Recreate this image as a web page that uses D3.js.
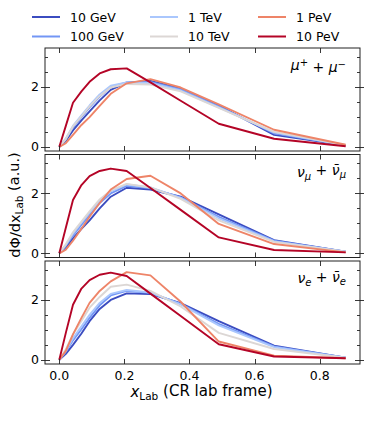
<!DOCTYPE html>
<html>
<head>
<meta charset="utf-8">
<script src="https://cdn.jsdelivr.net/npm/d3@7"></script>
<style>
  body { margin: 0; background: #fff; }
  text { font-family: "DejaVu Sans", sans-serif; fill: #000; }
</style>
</head>
<body>
<div id="chart"></div>
<script>
// x_Lab bin positions shared by every curve
var xLab = [0, 0.02, 0.042, 0.068, 0.093, 0.124, 0.158, 0.207, 0.28, 0.373, 0.49, 0.66, 0.88];

var energies = ["10 GeV", "100 GeV", "1 TeV", "10 TeV", "1 PeV", "10 PeV"];
var colors = ["#3b4cc0", "#7396f5", "#aac7fd", "#dcd7d5", "#ee8468", "#b40426"];

// mu+ + mu-
var muGeV10  = [0, 0.2, 0.55, 0.88, 1.18, 1.55, 1.9, 2.14, 2.2, 1.95, 1.38, 0.4, 0.05];
var muGeV100 = [0, 0.25, 0.65, 1.0, 1.32, 1.68, 2.0, 2.15, 2.17, 1.92, 1.35, 0.45, 0.05];
var muTeV1   = [0, 0.28, 0.7, 1.05, 1.38, 1.75, 2.04, 2.15, 2.13, 1.88, 1.32, 0.48, 0.05];
var muTeV10  = [0, 0.26, 0.68, 1.02, 1.35, 1.7, 1.98, 2.1, 2.08, 1.85, 1.3, 0.5, 0.06];
var muPeV1   = [0, 0.12, 0.4, 0.73, 0.99, 1.37, 1.77, 2.12, 2.26, 1.98, 1.42, 0.57, 0.07];
var muPeV10  = [0, 0.7, 1.47, 1.85, 2.17, 2.45, 2.59, 2.62, 2.15, 1.54, 0.77, 0.27, 0.02];

// nu_mu + nubar_mu
var numuGeV10  = [0, 0.2, 0.5, 0.82, 1.1, 1.5, 1.89, 2.19, 2.13, 1.89, 1.3, 0.44, 0.05];
var numuGeV100 = [0, 0.25, 0.6, 0.95, 1.28, 1.68, 2.0, 2.25, 2.18, 1.87, 1.22, 0.42, 0.05];
var numuTeV1   = [0, 0.28, 0.66, 1.02, 1.36, 1.75, 2.07, 2.3, 2.2, 1.85, 1.17, 0.4, 0.05];
var numuTeV10  = [0, 0.3, 0.7, 1.06, 1.4, 1.8, 2.1, 2.32, 2.2, 1.82, 1.1, 0.38, 0.05];
var numuPeV1   = [0, 0.12, 0.42, 0.82, 1.22, 1.68, 2.13, 2.48, 2.59, 2.0, 0.98, 0.31, 0.03];
var numuPeV10  = [0, 0.85, 1.78, 2.28, 2.58, 2.75, 2.83, 2.75, 2.18, 1.45, 0.53, 0.11, 0.03];

// nu_e + nubar_e
var nueGeV10  = [0, 0.2, 0.5, 0.88, 1.29, 1.7, 2.0, 2.22, 2.2, 1.89, 1.29, 0.47, 0.07];
var nueGeV100 = [0, 0.27, 0.65, 1.02, 1.4, 1.82, 2.15, 2.3, 2.24, 1.87, 1.2, 0.45, 0.07];
var nueTeV1   = [0, 0.3, 0.72, 1.12, 1.5, 1.9, 2.2, 2.33, 2.25, 1.85, 1.15, 0.42, 0.07];
var nueTeV10  = [0, 0.35, 0.85, 1.3, 1.74, 2.1, 2.44, 2.51, 2.3, 1.78, 0.9, 0.36, 0.07];
var nuePeV1   = [0, 0.3, 0.85, 1.4, 1.9, 2.3, 2.62, 2.93, 2.82, 1.94, 0.61, 0.14, 0.05];
var nuePeV10  = [0, 0.9, 1.84, 2.38, 2.66, 2.84, 2.91, 2.8, 2.21, 1.46, 0.52, 0.11, 0.05];

var xTicks = [0, 0.2, 0.4, 0.6, 0.8];
var yTicks = [0, 2];
var yMinor = [0, 0.5, 1, 1.5, 2, 2.5, 3];

var panels = [
    { label: ["μ", "+", " + ", "μ", "−"], kind: "sup", series: [muGeV10, muGeV100, muTeV1, muTeV10, muPeV1, muPeV10] },
    { label: ["ν", "μ", " + ", "ν̄", "μ"], kind: "sub", series: [numuGeV10, numuGeV100, numuTeV1, numuTeV10, numuPeV1, numuPeV10] },
    { label: ["ν", "e", " + ", "ν̄", "e"], kind: "sub", series: [nueGeV10, nueGeV100, nueTeV1, nueTeV10, nuePeV1, nuePeV10] }
];

var svgWidth = 374, svgHeight = 421;
var left = 45, right = 360;
var panelTops = [48, 154.5, 261];
var panelH = 103;

var svg = d3.select("#chart").append("svg")
    .attr("width", svgWidth)
    .attr("height", svgHeight);

var x = d3.scaleLinear().domain([-0.044, 0.924]).range([left, right]);

panels.forEach(function (p, i) {
    var top = panelTops[i];
    var y = d3.scaleLinear().domain([-0.14, 3.3]).range([top + panelH, top]);
    var g = svg.append("g");

    var line = d3.line()
        .x(function (d, k) { return x(xLab[k]); })
        .y(function (d) { return y(d); });

    // curves, low energy first so 10 PeV is drawn on top
    p.series.forEach(function (s, k) {
        g.append("path")
            .datum(s)
            .attr("d", line)
            .attr("fill", "none")
            .attr("stroke", colors[k])
            .attr("stroke-width", 1.9)
            .attr("stroke-linejoin", "round");
    });

    // ticks
    var tg = g.append("g").attr("stroke", "#222").attr("stroke-width", 0.9);
    yMinor.forEach(function (v) {
        var major = yTicks.indexOf(v) >= 0;
        var yy = Math.round(y(v)) + 0.5;
        tg.append("line").attr("x1", major ? left - 4 : left).attr("x2", left + (major ? 5 : 3))
            .attr("y1", yy).attr("y2", yy);
        tg.append("line").attr("x1", right - (major ? 5 : 3)).attr("x2", major ? right + 4 : right)
            .attr("y1", yy).attr("y2", yy);
    });
    xTicks.forEach(function (v) {
        var xx = Math.round(x(v)) + 0.5;
        tg.append("line").attr("x1", xx).attr("x2", xx).attr("y1", top).attr("y2", top + 5);
        tg.append("line").attr("x1", xx).attr("x2", xx).attr("y1", top + panelH).attr("y2", top + panelH - 5);
    });

    // y tick labels
    yTicks.forEach(function (v) {
        g.append("text")
            .attr("x", left - 6)
            .attr("y", y(v))
            .attr("dy", "0.36em")
            .attr("text-anchor", "end")
            .attr("font-size", 12.5)
            .text(v);
    });

    // frame
    g.append("rect")
        .attr("x", left).attr("y", top)
        .attr("width", right - left).attr("height", panelH)
        .attr("fill", "none")
        .attr("stroke", "#222")
        .attr("stroke-width", 1);

    // particle label
    var lab = g.append("text")
        .attr("x", 346)
        .attr("y", top + 22)
        .attr("text-anchor", "end")
        .attr("font-size", 14);
    var shift = p.kind === "sup" ? "-0.4em" : "0.3em";
    lab.append("tspan").attr("font-style", "italic").text(p.label[0]);
    lab.append("tspan").attr("font-style", "italic").attr("font-size", 10).attr("dy", shift).text(p.label[1]);
    lab.append("tspan").attr("dy", p.kind === "sup" ? "0.4em" : "-0.3em").text(p.label[2]);
    lab.append("tspan").attr("font-style", "italic").text(p.label[3]);
    lab.append("tspan").attr("font-style", "italic").attr("font-size", 10).attr("dy", shift).text(p.label[4]);

    // bottom axis labels only on last panel
    if (i === panels.length - 1) {
        xTicks.forEach(function (v) {
            g.append("text")
                .attr("x", x(v))
                .attr("y", top + panelH + 16)
                .attr("text-anchor", "middle")
                .attr("font-size", 12.5)
                .text(d3.format(".1f")(v));
        });
    }
});

// x axis title
var xt = svg.append("text")
    .attr("x", (left + right) / 2 - 1)
    .attr("y", 397)
    .attr("text-anchor", "middle")
    .attr("font-size", 15);
xt.append("tspan").attr("font-style", "italic").text("x");
xt.append("tspan").attr("font-size", 10.5).attr("dy", "0.3em").text("Lab");
xt.append("tspan").attr("dy", "-0.3em").text(" (CR lab frame)");

// y axis title
var yt = svg.append("text")
    .attr("transform", "translate(20,205) rotate(-90)")
    .attr("text-anchor", "middle")
    .attr("font-size", 14.5);
yt.append("tspan").text("dΦ/dx");
yt.append("tspan").attr("font-size", 10.5).attr("dy", "0.3em").text("Lab");
yt.append("tspan").attr("dy", "-0.3em").text(" (a.u.)");

// legend, two rows of three
var legX = [32, 150, 258];
var legY = [17, 36.5];
energies.forEach(function (e, k) {
    var col = Math.floor(k / 2), row = k % 2;
    svg.append("line")
        .attr("x1", legX[col]).attr("x2", legX[col] + 28)
        .attr("y1", legY[row]).attr("y2", legY[row])
        .attr("stroke", colors[k])
        .attr("stroke-width", 2);
    svg.append("text")
        .attr("x", legX[col] + 38)
        .attr("y", legY[row])
        .attr("dy", "0.36em")
        .attr("font-size", 12.5)
        .text(e);
});
</script>
</body>
</html>
